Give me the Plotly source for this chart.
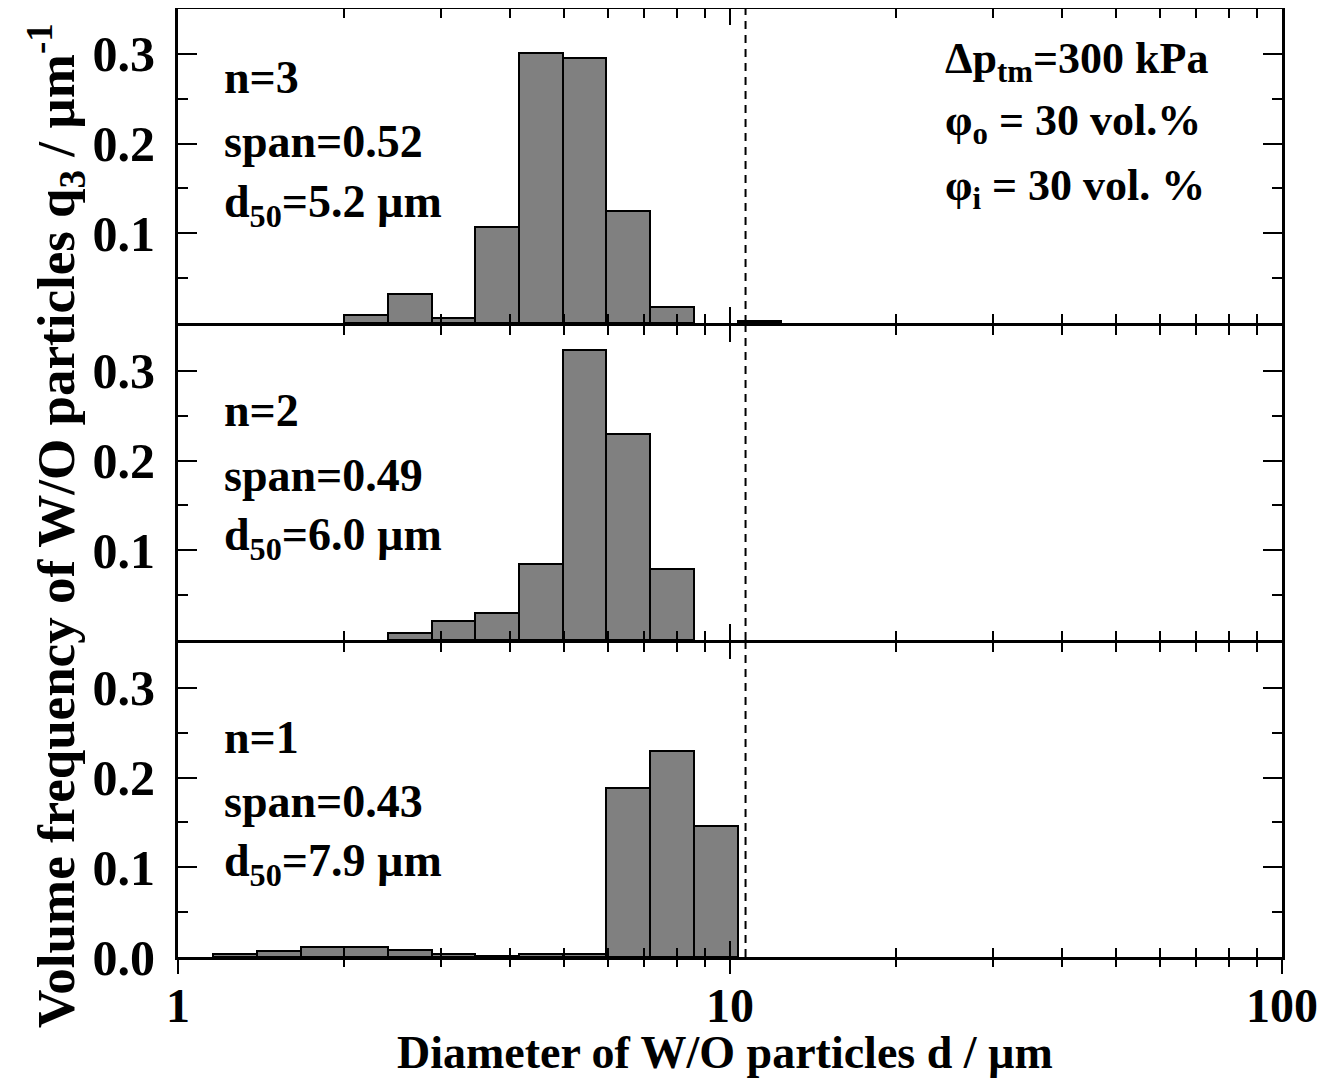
import plotly.graph_objects as go

# Bin edges (µm)
bin_left = [0.964, 1.157, 1.389, 1.667, 2.0, 2.4, 2.88, 3.456, 4.147, 4.977, 5.972, 7.166, 8.6, 10.32]
bin_right = [1.157, 1.389, 1.667, 2.0, 2.4, 2.88, 3.456, 4.147, 4.977, 5.972, 7.166, 8.6, 10.32, 12.38]

# Volume frequency q3 (1/µm) per panel
q3_n1 = [None, 0.0029, 0.0066, 0.011, 0.0117, 0.0077, 0.0036, 0.0015, 0.0029, 0.0029, 0.1885, 0.2294, 0.1455, None]
q3_n2 = [None, None, None, None, None, 0.0074, 0.021, 0.0304, 0.085, 0.3234, 0.230, 0.079, None, None]
q3_n3 = [None, None, None, None, 0.0084, 0.0326, 0.0055, 0.1067, 0.301, 0.295, 0.1244, 0.018, None, 0.0018]

panel_labels = {
    "n1": ["n=1", "span=0.43", "d<sub>50</sub>=7.9 µm"],
    "n2": ["n=2", "span=0.49", "d<sub>50</sub>=6.0 µm"],
    "n3": ["n=3", "span=0.52", "d<sub>50</sub>=5.2 µm"],
}
conditions = ["Δp<sub>tm</sub>=300 kPa", "φ<sub>o</sub> = 30 vol.%", "φ<sub>i</sub> = 30 vol. %"]
d_limit = 10.67  # dashed reference line (µm)

x_major = [1, 10, 100]
x_minor = [2, 3, 4, 5, 6, 7, 8, 9, 20, 30, 40, 50, 60, 70, 80, 90]

FONT = "Liberation Serif"
widths = [r - l for l, r in zip(bin_left, bin_right)]

fig = go.Figure()
series = [("x", "y", q3_n1), ("x2", "y2", q3_n2), ("x3", "y3", q3_n3)]
for xa, ya, vals in series:
    fig.add_trace(go.Bar(
        x=bin_left, y=vals, width=widths, offset=0,
        marker=dict(color="#808080", line=dict(color="black", width=2)),
        xaxis=xa, yaxis=ya, showlegend=False, hoverinfo="x+y"))
    fig.add_trace(go.Scatter(
        x=[d_limit, d_limit], y=[0, 0.35], mode="lines",
        line=dict(color="black", width=2, dash="8px,6px"),
        xaxis=xa, yaxis=ya, showlegend=False, hoverinfo="skip"))

# dummy trace for overlay axis (outside ticks on bottom)
fig.add_trace(go.Scatter(x=[1], y=[0], mode="markers", marker=dict(opacity=0),
                         xaxis="x4", yaxis="y", showlegend=False, hoverinfo="skip"))

def xaxis_cfg(anchor, labels):
    return dict(
        type="log", range=[0, 2], anchor=anchor, automargin=False,
        tickmode="array", tickvals=x_major, ticktext=["1", "10", "100"],
        showticklabels=labels, ticks="inside", ticklen=16, tickwidth=2, tickcolor="black",
        showline=True, linewidth=3, linecolor="black", mirror="ticks",
        showgrid=False, zeroline=False,
        minor=dict(tickmode="array", tickvals=x_minor, ticks="inside", ticklen=9,
                   tickwidth=2, tickcolor="black", showgrid=False),
        tickfont=dict(family=FONT, size=48, color="black", weight="bold"),
        ticklabelstandoff=4,
    )

def yaxis_cfg(domain, anchor, vals):
    return dict(
        domain=domain, anchor=anchor, range=[0, 0.35], automargin=False,
        tickmode="array", tickvals=vals, ticktext=[f"{v:.1f}" for v in vals],
        ticks="inside", ticklen=19, tickwidth=2, tickcolor="black",
        showline=True, linewidth=3, linecolor="black", mirror="ticks",
        showgrid=False, zeroline=False,
        minor=dict(tickmode="array", tickvals=[0.05, 0.15, 0.25], ticks="inside",
                   ticklen=10, tickwidth=2, tickcolor="black", showgrid=False),
        tickfont=dict(family=FONT, size=50, color="black", weight="bold"),
        ticklabelstandoff=10,
    )

H = 948.0  # plot-area height in px; panels 314 px with 3 px gaps so borders coincide
fig.update_layout(
    width=1328, height=1077,
    margin=dict(l=170, r=54, t=1, b=128),
    paper_bgcolor="white", plot_bgcolor="white",
    font=dict(family=FONT, color="black", weight="bold"),
    bargap=0,
    xaxis=xaxis_cfg("y", True),
    xaxis2=xaxis_cfg("y2", False),
    xaxis3=xaxis_cfg("y3", False),
    xaxis4=dict(type="log", range=[0, 2], overlaying="x", anchor="y", side="bottom",
                automargin=False,
                tickmode="array", tickvals=x_major, showticklabels=False,
                ticks="outside", ticklen=16, tickwidth=2, tickcolor="black",
                showline=False, showgrid=False, zeroline=False,
                minor=dict(tickmode="array", tickvals=x_minor, ticks="outside", ticklen=9,
                           tickwidth=2, tickcolor="black", showgrid=False)),
    yaxis=yaxis_cfg([0, 314 / H], "x", [0.0, 0.1, 0.2, 0.3]),
    yaxis2=yaxis_cfg([317 / H, 631 / H], "x2", [0.1, 0.2, 0.3]),
    yaxis3=yaxis_cfg([634 / H, 1], "x3", [0.1, 0.2, 0.3]),
)

ann_font = dict(family=FONT, size=46, color="black", weight="bold")
ys = {"n3": [0.928, 0.860, 0.793], "n2": [0.577, 0.508, 0.442], "n1": [0.2316, 0.164, 0.098]}
for key, lines in panel_labels.items():
    for txt, yy in zip(lines, ys[key]):
        fig.add_annotation(text=txt, xref="paper", yref="paper", x=0.04, y=yy,
                           xanchor="left", yanchor="middle", showarrow=False, font=ann_font)
for txt, yy in zip(conditions, [0.945, 0.879, 0.8105]):
    fig.add_annotation(text=txt, xref="paper", yref="paper", x=0.693, y=yy,
                       xanchor="left", yanchor="middle", showarrow=False,
                       font=dict(family=FONT, size=44, color="black", weight="bold"))

fig.add_annotation(text="Diameter of W/O particles d / µm", xref="paper", yref="paper",
                   x=0.4955, y=-0.101, xanchor="center", yanchor="middle", showarrow=False,
                   font=dict(family=FONT, size=46, color="black", weight="bold"))
fig.add_annotation(text="Volume frequency of W/O particles q<sub>3</sub> / µm<sup>-1</sup>",
                   xref="paper", yref="paper", x=-0.111, y=0.455, textangle=-90,
                   xanchor="center", yanchor="middle", showarrow=False,
                   font=dict(family=FONT, size=53, color="black", weight="bold"))

fig.write_html("out.html")
